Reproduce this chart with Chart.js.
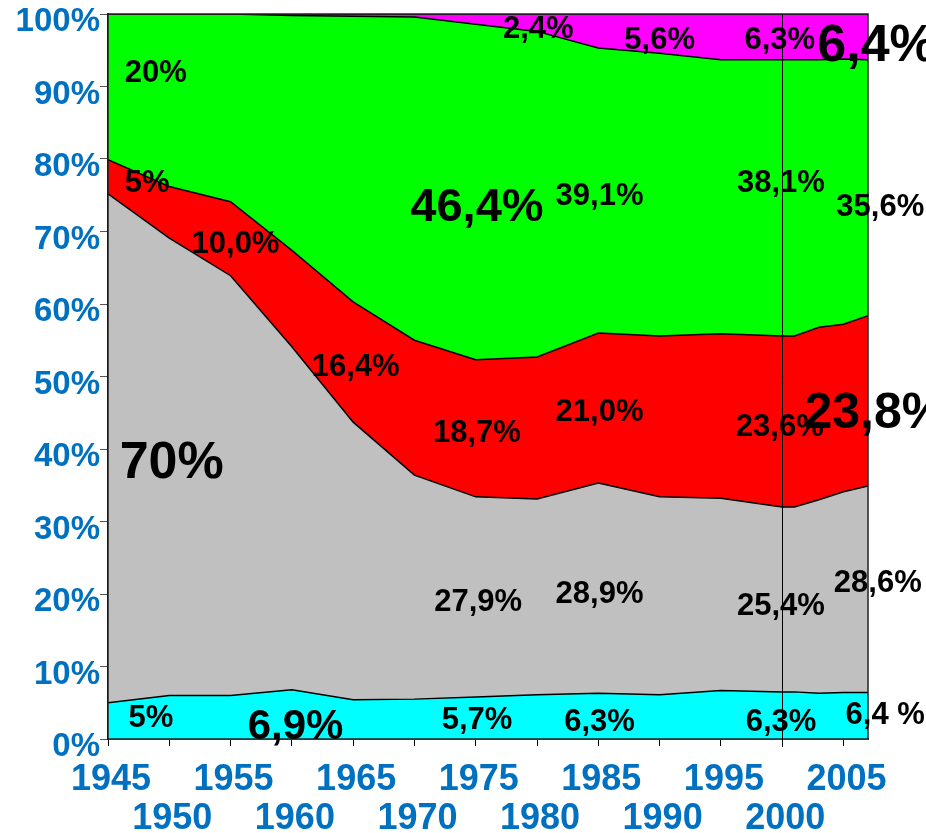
<!DOCTYPE html>
<html>
<head>
<meta charset="utf-8">
<style>
  html, body { margin: 0; padding: 0; background: #fff; }
  #wrap { width: 926px; height: 833px; }
</style>
<script src="https://cdn.jsdelivr.net/npm/chart.js@4.4.1/dist/chart.umd.min.js"></script>
</head>
<body>
<div id="wrap"><canvas id="shareChart" width="926" height="833"></canvas></div>
<script>
// ── Data (share of each layer, %) ──────────────────────────────
const years        = [1945, 1950, 1955, 1960, 1965, 1970, 1975, 1980, 1985, 1990, 1995, 2000, 2001, 2003, 2005, 2007];
const cyanShare    = [5.0, 6.0, 6.0, 6.8, 5.4, 5.5, 5.8, 6.1, 6.3, 6.1, 6.7, 6.5, 6.5, 6.3, 6.4, 6.4];
const grayShare    = [70.2, 63.1, 57.9, 47.3, 38.3, 30.9, 27.6, 27.0, 29.0, 27.3, 26.5, 25.5, 25.5, 26.7, 27.7, 28.5];
const redShare     = [4.7, 7.1, 10.2, 13.3, 16.6, 18.6, 18.9, 19.6, 20.7, 22.2, 22.7, 23.6, 23.6, 23.8, 23.1, 23.5];
const greenShare   = [20.1, 23.8, 25.9, 32.4, 39.4, 44.6, 46.3, 44.9, 39.3, 39.0, 37.8, 38.1, 38.1, 36.9, 36.6, 35.3];
const magentaShare = [0, 0, 0, 0.2, 0.3, 0.4, 1.4, 2.4, 4.7, 5.4, 6.3, 6.3, 6.3, 6.3, 6.2, 6.3];
const markerYear   = 2000;

// value labels written on the chart: text, year, % height
const noteText = ['20%', '5%', '10,0%', '46,4%', '39,1%', '38,1%', '35,6%', '2,4%', '5,6%', '6,3%', '6,4%',
                  '16,4%', '18,7%', '21,0%', '23,6%', '23,8%', '70%', '27,9%', '28,9%', '25,4%', '28,6%',
                  '5%', '6,9%', '5,7%', '6,3%', '6,3%', '6,4 %'];
const noteYear = [1948.9, 1948.2, 1955.4, 1975.1, 1985.1, 1999.9, 2008.0, 1980.1, 1990.0, 1999.8, 2007.7,
                  1965.2, 1975.1, 1985.1, 1999.8, 2007.6, 1950.2, 1975.2, 1985.1, 1999.9, 2007.8,
                  1948.5, 1960.3, 1975.1, 1985.1, 1999.9, 2008.4];
const notePct  = [91.8, 76.6, 68.2, 73.2, 74.8, 76.6, 73.3, 97.9, 96.3, 96.3, 95.5,
                  51.2, 42.1, 45.0, 43.0, 44.8, 38.0, 18.8, 20.0, 18.3, 21.4,
                  2.8, 1.6, 2.5, 2.3, 2.3, 3.3];
const bigNotes = { '46,4%': 47, '6,4%': 52, '23,8%': 50, '70%': 52, '6,9%': 42 };

const FONT = '"Liberation Sans", Arial, sans-serif';
const BLUE = '#0070C0';

// ── Layers, bottom to top ──────────────────────
const layers = [
  { name: 'cyan',    values: cyanShare,    color: '#00FFFF' },
  { name: 'gray',    values: grayShare,    color: '#C0C0C0' },
  { name: 'red',     values: redShare,     color: '#FF0000' },
  { name: 'green',   values: greenShare,   color: '#00FF00' },
  { name: 'magenta', values: magentaShare, color: '#FF00FF' },
];

// frame, value labels and the 2000 marker line
const overlay = {
  id: 'overlay',
  afterDatasetsDraw(chart) {
    const { ctx, chartArea: a, scales: { x, y } } = chart;
    ctx.save();
    ctx.strokeStyle = '#222';
    ctx.lineWidth = 1.5;
    ctx.strokeRect(a.left, a.top, a.right - a.left, a.bottom - a.top);

    ctx.fillStyle = '#000';
    ctx.textAlign = 'center';
    ctx.textBaseline = 'middle';
    noteText.forEach((t, i) => {
      ctx.font = `bold ${bigNotes[t] || 31}px ${FONT}`;
      ctx.fillText(t, x.getPixelForValue(noteYear[i]), y.getPixelForValue(notePct[i]));
    });

    const mx = Math.round(x.getPixelForValue(markerYear)) + 0.5;
    ctx.strokeStyle = '#000';
    ctx.lineWidth = 1;
    ctx.beginPath();
    ctx.moveTo(mx, a.top);
    ctx.lineTo(mx, a.bottom + 8);
    ctx.stroke();
    ctx.restore();
  }
};

new Chart(document.getElementById('shareChart'), {
  type: 'line',
  data: {
    datasets: layers.map((l, i) => ({
      label: l.name,
      data: years.map((yr, j) => ({ x: yr, y: l.values[j] })),
      backgroundColor: l.color,
      borderColor: '#000',
      borderWidth: 1.5,
      pointRadius: 0,
      tension: 0,
      fill: i === 0 ? 'origin' : '-1',
    }))
  },
  options: {
    responsive: false,
    animation: false,
    devicePixelRatio: 1,
    layout: { padding: { top: 14, right: 58, left: 0, bottom: 0 } },
    plugins: {
      legend: { display: false },
      tooltip: { enabled: false },
      filler: { drawTime: 'beforeDatasetsDraw' },
    },
    scales: {
      x: {
        type: 'linear', min: 1945, max: 2007,
        border: { color: '#000', width: 1.5 },
        grid: { drawOnChartArea: false, tickLength: 7, color: '#000' },
        ticks: {
          stepSize: 5, includeBounds: false, autoSkip: false, maxRotation: 0,
          color: BLUE, padding: 15, labelOffset: 3,
          font: { family: FONT, size: 36, weight: 'bold', lineHeight: 1.08 },
          callback: v => ((v - 1945) % 10 === 0 ? [String(v), ''] : ['', String(v)]),
        },
        afterFit: s => { s.height = 94; s.paddingLeft = 0; s.paddingRight = 0; },
      },
      y: {
        stacked: true, min: 0, max: 100,
        border: { color: '#000', width: 2 },
        grid: { drawOnChartArea: false, tickLength: 8, color: '#555' },
        ticks: {
          stepSize: 10, color: BLUE, padding: 0, labelOffset: 8,
          font: { family: FONT, size: 33, weight: 'bold' },
          callback: v => v + '%',
        },
        afterFit: s => { s.width = 108; s.paddingTop = 0; s.paddingBottom = 0; },
      }
    }
  },
  plugins: [overlay]
});
</script>
</body>
</html>
